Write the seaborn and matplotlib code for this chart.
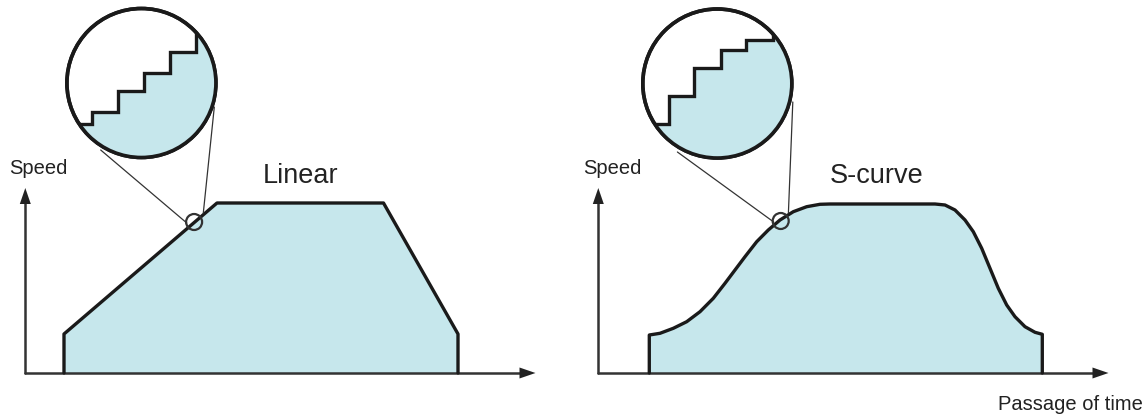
import numpy as np
import matplotlib
matplotlib.use('Agg')
import matplotlib.pyplot as plt
import seaborn as sns
from matplotlib.patches import Circle, Polygon

sns.set_style('white')
plt.rcParams['font.family'] = ['Liberation Sans', 'DejaVu Sans']

# Perfis de velocidade (coordenadas do desenho, em px)
linear_t = [64, 64, 217, 383.5, 458, 458]
linear_v = [373, 334, 203, 203, 334, 373]

scurve_t = [649.3, 649.3, 660, 673.3, 686.7, 700, 713.3, 725, 735, 745, 756.7, 768.3,
            780, 793.3, 806.7, 820, 830,
            935, 945, 955, 965, 973.3, 981.7, 990, 998.3, 1006.7, 1015, 1025, 1035,
            1042.3, 1042.3]
scurve_v = [373, 335, 333.3, 328.3, 321.7, 311.7, 298.3, 283.3, 270, 256.7, 241.7, 230,
            220, 211.7, 206.7, 204.3, 204,
            204, 205, 210, 220, 231.7, 248.3, 268.3, 288.3, 305, 316.7, 326.7, 332.3,
            334.3, 373]

# Degraus dentro da lupa
linear_step_t = [78.3, 92.3, 92.3, 118.3, 118.3, 144, 144, 170, 170, 196, 196]
linear_step_v = [124, 124, 111.7, 111.7, 91, 91, 73.3, 73.3, 51.7, 51.7, 31.7]
scurve_step_t = [654.3, 669, 669, 693.9, 693.9, 720.6, 720.6, 746.3, 746.3, 772.6, 772.6]
scurve_step_v = [124, 124, 96, 96, 68.3, 68.3, 50, 50, 40, 40, 31.7]

# Lupa: centro do círculo pequeno, centro do círculo grande, linhas de ligação
panels = [
    dict(name='Linear', t=linear_t, v=linear_v, st=linear_step_t, sv=linear_step_v,
         x0=25.3, x1=535.5, small=(194.1, 222), big=(141.4, 83),
         links=[((186.8, 223), (100.7, 150)), ((203.3, 213), (214.3, 107))],
         label_xy=(301, 176), speed_x=9),
    dict(name='S-curve', t=scurve_t, v=scurve_v, st=scurve_step_t, sv=scurve_step_v,
         x0=598.3, x1=1108.5, small=(780.7, 221), big=(717.3, 83.5),
         links=[((773.7, 222), (677.4, 152)), ((788.4, 213), (792.8, 102))],
         label_xy=(877, 176), speed_x=583),
]

fill_c = '#c6e7ec'
line_c = '#1a1a1a'
axis_y = 373

fig = plt.figure(figsize=(11.46, 4.16), dpi=100)
ax = fig.add_axes([0, 0, 1, 1])
ax.set_xlim(0, 1146)
ax.set_ylim(416, 0)
ax.axis('off')

for p in panels:
    # área sob a curva
    ax.fill_between(p['t'], p['v'], axis_y, color=fill_c, lw=0, zorder=1)
    sns.lineplot(x=p['t'], y=p['v'], sort=False, estimator=None, color=line_c,
                 lw=2.4, ax=ax, zorder=3, solid_joinstyle='round')

    # eixos com setas
    ax.plot([p['x0'], p['x1'] - 14], [axis_y, axis_y], color='#333333', lw=1.8, zorder=2)
    ax.plot([p['x0'], p['x0']], [axis_y, 200], color='#333333', lw=1.8, zorder=2)
    ax.add_patch(Polygon([(p['x1'], axis_y), (p['x1'] - 16, axis_y - 5.5),
                          (p['x1'] - 16, axis_y + 5.5)], closed=True,
                         color='#222222', lw=0, zorder=4))
    ax.add_patch(Polygon([(p['x0'], 188), (p['x0'] - 5.5, 204), (p['x0'] + 5.5, 204)],
                         closed=True, color='#222222', lw=0, zorder=4))

    # lupa
    bx, by = p['big']
    big = Circle((bx, by), 74.5, facecolor='white', edgecolor=line_c, lw=2.6, zorder=6)
    ax.add_patch(big)
    poly = list(zip(p['st'], p['sv'])) + [(p['st'][-1], 0), (bx + 90, 0),
                                           (bx + 90, by + 90), (bx - 90, by + 90),
                                           (bx - 90, p['sv'][0])]
    fill = Polygon(poly, closed=True, color=fill_c, lw=0, zorder=6.5)
    ax.add_patch(fill)
    fill.set_clip_path(big)
    steps, = ax.plot(p['st'], p['sv'], color=line_c, lw=2.4, zorder=7,
                     solid_joinstyle='miter')
    steps.set_clip_path(big)
    ax.add_patch(Circle((bx, by), 74.5, facecolor='none', edgecolor=line_c,
                        lw=2.6, zorder=8))

    ax.add_patch(Circle(p['small'], 8, facecolor='none', edgecolor='#333333',
                        lw=1.6, zorder=5))
    for a, b in p['links']:
        ax.plot([a[0], b[0]], [a[1], b[1]], color='#333333', lw=0.9, zorder=5)

    ax.text(p['speed_x'], 168, 'Speed', fontsize=14.5, color='#222222',
            ha='left', va='center')
    ax.text(*p['label_xy'], p['name'], fontsize=19.5, color='#222222',
            ha='center', va='center')

ax.text(1143, 404, 'Passage of time', fontsize=14.5, color='#222222',
        ha='right', va='center')

plt.savefig('out.png', dpi=100)
